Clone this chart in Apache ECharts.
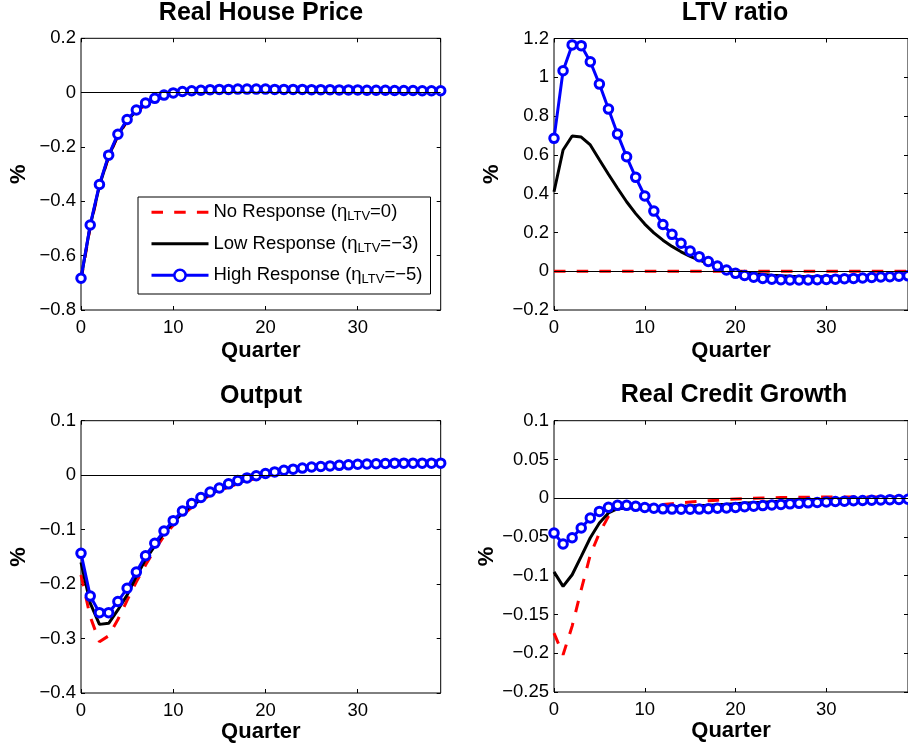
<!DOCTYPE html>
<html><head><meta charset="utf-8">
<script src="https://cdn.jsdelivr.net/npm/echarts@6/dist/echarts.min.js"></script>
<style>html,body{margin:0;padding:0;background:#fff}#c{width:908px;height:746px}</style>
</head><body><div id="c"></div>
<script>
// ---------- data ----------
const quarters = [0,1,2,3,4,5,6,7,8,9,10,11,12,13,14,15,16,17,18,19,20,21,22,23,24,25,26,27,28,29,30,31,32,33,34,35,36,37,38,39];

const panelTitles = ['Real House Price', 'LTV ratio', 'Output', 'Real Credit Growth'];
const seriesNames = ['No Response', 'Low Response', 'High Response'];
const legendEta = ['0', '\u22123', '\u22125'];

const yMins = [-0.8, -0.2, -0.4, -0.25];
const yMaxs = [0.2, 1.2, 0.1, 0.1];
const yIntervals = [0.2, 0.2, 0.1, 0.05];
const xTicks = [0, 10, 20, 30];

// Real House Price
const housePriceNo = [-0.69,-0.495,-0.345,-0.236,-0.159,-0.105,-0.07,-0.045,-0.028,-0.016,-0.008,-0.003,0.0,0.002,0.003,0.004,0.004,0.004,0.004,0.004,0.004,0.004,0.004,0.004,0.004,0.004,0.004,0.004,0.004,0.004,0.004,0.004,0.003,0.003,0.003,0.003,0.003,0.003,0.003,0.003];
const housePriceLow = [-0.685,-0.49,-0.342,-0.234,-0.157,-0.103,-0.067,-0.042,-0.025,-0.014,-0.006,-0.001,0.002,0.004,0.005,0.006,0.006,0.007,0.007,0.007,0.007,0.007,0.007,0.006,0.006,0.006,0.006,0.006,0.006,0.006,0.005,0.005,0.005,0.005,0.005,0.005,0.005,0.004,0.004,0.004];
const housePriceHigh = [-0.683,-0.487,-0.338,-0.23,-0.153,-0.099,-0.064,-0.038,-0.021,-0.009,-0.001,0.004,0.007,0.009,0.011,0.012,0.012,0.013,0.013,0.013,0.013,0.012,0.012,0.012,0.012,0.011,0.011,0.011,0.01,0.01,0.01,0.009,0.009,0.009,0.008,0.008,0.008,0.007,0.007,0.007];

// LTV ratio
const ltvNo = [0,0,0,0,0,0,0,0,0,0,0,0,0,0,0,0,0,0,0,0,0,0,0,0,0,0,0,0,0,0,0,0,0,0,0,0,0,0,0,0];
const ltvLow = [0.41,0.625,0.697,0.692,0.651,0.575,0.5,0.428,0.358,0.297,0.243,0.198,0.16,0.128,0.1,0.077,0.057,0.04,0.025,0.012,0.002,-0.006,-0.012,-0.017,-0.021,-0.024,-0.026,-0.027,-0.028,-0.028,-0.028,-0.027,-0.026,-0.025,-0.024,-0.023,-0.022,-0.021,-0.02,-0.019];
const ltvHigh = [0.685,1.034,1.167,1.163,1.08,0.965,0.836,0.707,0.59,0.484,0.388,0.31,0.241,0.19,0.144,0.104,0.075,0.05,0.027,0.006,-0.011,-0.022,-0.031,-0.037,-0.041,-0.044,-0.045,-0.045,-0.045,-0.044,-0.043,-0.041,-0.039,-0.037,-0.035,-0.032,-0.03,-0.028,-0.026,-0.024];

// Output
const outputNo = [-0.183,-0.26,-0.306,-0.295,-0.265,-0.23,-0.196,-0.165,-0.137,-0.112,-0.092,-0.074,-0.059,-0.047,-0.037,-0.029,-0.022,-0.016,-0.011,-0.006,-0.002,0.002,0.005,0.008,0.01,0.012,0.014,0.015,0.016,0.017,0.018,0.019,0.019,0.02,0.02,0.02,0.021,0.021,0.021,0.021];
const outputLow = [-0.16,-0.235,-0.274,-0.272,-0.2475,-0.22,-0.186,-0.155,-0.13,-0.106,-0.087,-0.07,-0.056,-0.045,-0.035,-0.027,-0.02,-0.014,-0.009,-0.004,0.0,0.003,0.006,0.009,0.011,0.013,0.014,0.015,0.016,0.017,0.018,0.019,0.019,0.02,0.02,0.02,0.021,0.021,0.021,0.021];
const outputHigh = [-0.1435,-0.222,-0.2525,-0.2525,-0.232,-0.2077,-0.178,-0.148,-0.125,-0.1025,-0.0835,-0.066,-0.052,-0.041,-0.031,-0.0235,-0.016,-0.01,-0.005,-0.001,0.003,0.006,0.009,0.011,0.013,0.015,0.016,0.017,0.018,0.019,0.02,0.0205,0.021,0.0215,0.022,0.022,0.022,0.022,0.022,0.022];

// Real Credit Growth
const creditNo = [-0.174,-0.202,-0.165,-0.118,-0.073,-0.045,-0.0234,-0.013,-0.011,-0.0105,-0.0098,-0.009,-0.008,-0.007,-0.006,-0.005,-0.004,-0.0032,-0.0025,-0.0018,-0.001,-0.0005,0.0,0.0003,0.0006,0.0008,0.001,0.0012,0.0013,0.0014,0.0015,0.0015,0.0015,0.0015,0.0015,0.0015,0.0015,0.0015,0.0015,0.0015];
const creditLow = [-0.095,-0.1137,-0.0987,-0.075,-0.051,-0.032,-0.019,-0.0135,-0.0125,-0.0123,-0.012,-0.0117,-0.0113,-0.011,-0.0105,-0.01,-0.0095,-0.009,-0.0083,-0.0077,-0.007,-0.0063,-0.0057,-0.0051,-0.0045,-0.004,-0.0035,-0.003,-0.0025,-0.002,-0.0016,-0.0013,-0.001,-0.0008,-0.0006,-0.0004,-0.0003,-0.0002,-0.0001,0.0];
const creditHigh = [-0.045,-0.059,-0.051,-0.0385,-0.0255,-0.017,-0.0118,-0.0092,-0.0092,-0.0105,-0.012,-0.013,-0.0137,-0.014,-0.0143,-0.0143,-0.014,-0.0135,-0.013,-0.0125,-0.012,-0.011,-0.0103,-0.0095,-0.0088,-0.008,-0.0073,-0.0066,-0.006,-0.0054,-0.0048,-0.0043,-0.0038,-0.0033,-0.0029,-0.0025,-0.0022,-0.0019,-0.0016,-0.0014];

const panelData = [
  [housePriceNo, housePriceLow, housePriceHigh],
  [ltvNo, ltvLow, ltvHigh],
  [outputNo, outputLow, outputHigh],
  [creditNo, creditLow, creditHigh]
];

// ---------- layout / style ----------
const FONT = "'Liberation Sans', Arial, Helvetica, sans-serif";
const grids = [
  {left: 81, top: 38.3, width: 359.7, height: 271.7},
  {left: 554, top: 38.5, width: 359.6, height: 271.5},
  {left: 81, top: 420.7, width: 359.7, height: 272.3},
  {left: 554, top: 420.7, width: 359.6, height: 271.3}
];
const titlePos = [
  {x: 261, y: 13.5}, {x: 735, y: 13.5}, {x: 261, y: 396}, {x: 734, y: 395.5}
];
const xNameGaps = [30, 30, 28, 28];
const colors = ['#ff0000', '#000000', '#0000ff'];

function fmtY(v) {
  const s = String(+(+v).toFixed(4));
  return s.replace('-', '\u2212');
}
function fmtX(v) {
  return xTicks.indexOf(Math.round(v)) >= 0 && Math.abs(v - Math.round(v)) < 1e-6 ? String(Math.round(v)) : '';
}

const tickStyle = {show: true, inside: true, length: 4, lineStyle: {color: '#000', width: 1}};
const xAxes = [], yAxes = [], series = [], titles = [];
for (let i = 0; i < 4; i++) {
  titles.push({
    text: panelTitles[i], left: titlePos[i].x, top: titlePos[i].y,
    textAlign: 'center', textVerticalAlign: 'middle', padding: 0,
    textStyle: {fontSize: 25, fontWeight: 'bold', color: '#000', fontFamily: FONT}
  });
  xAxes.push({
    type: 'value', gridIndex: i, position: 'bottom', min: 0, max: 39, interval: 10,
    axisLine: {show: false, onZero: false},
    axisTick: tickStyle,
    axisLabel: {formatter: fmtX, color: '#000', fontSize: 18.5, margin: 8, fontFamily: FONT, showMaxLabel: false},
    splitLine: {show: false},
    name: 'Quarter', nameLocation: 'middle', nameGap: xNameGaps[i],
    nameTextStyle: {fontWeight: 'bold', fontSize: 22, color: '#000', fontFamily: FONT}
  });
  yAxes.push({
    type: 'value', gridIndex: i, position: 'left', min: yMins[i], max: yMaxs[i], interval: yIntervals[i],
    axisLine: {show: false, onZero: false},
    axisTick: tickStyle,
    axisLabel: {formatter: fmtY, color: '#000', fontSize: 18.5, margin: 5, fontFamily: FONT},
    splitLine: {show: false},
    name: '%', nameLocation: 'middle', nameRotate: 90, nameGap: 51,
    nameTextStyle: {fontWeight: 'bold', fontSize: 22, color: '#000', fontFamily: FONT}
  });
}
for (let i = 0; i < 4; i++) {
  xAxes.push({
    type: 'value', gridIndex: i, position: 'top', min: 0, max: 39, interval: 10,
    axisLine: {show: false, onZero: false},
    axisTick: tickStyle,
    axisLabel: {show: false}, splitLine: {show: false}
  });
  yAxes.push({
    type: 'value', gridIndex: i, position: 'right', min: yMins[i], max: yMaxs[i], interval: yIntervals[i],
    axisLine: {show: false, onZero: false},
    axisTick: tickStyle,
    axisLabel: {show: false}, splitLine: {show: false}
  });
}

for (let i = 0; i < 4; i++) {
  for (let k = 0; k < 3; k++) {
    const vals = panelData[i][k];
    const s = {
      type: 'line', name: seriesNames[k], xAxisIndex: i, yAxisIndex: i,
      data: quarters.map((q, j) => [q, vals[j]]),
      lineStyle: {color: colors[k], width: 3, type: k === 0 ? [11.5, 11.2] : 'solid'},
      symbol: k === 2 ? 'circle' : 'none',
      symbolSize: 8.5,
      showSymbol: k === 2, showAllSymbol: true,
      itemStyle: k === 2
        ? {color: '#ffffff', borderColor: colors[k], borderWidth: 3}
        : {color: colors[k]},
      emphasis: {disabled: true},
      animation: false, silent: true, z: 2 + k
    };
    if (k === 0) {
      s.markLine = {
        silent: true, symbol: ['none', 'none'], animation: false,
        label: {show: false},
        lineStyle: {color: '#000', width: 1, type: 'solid'},
        emphasis: {disabled: true},
        data: [{yAxis: 0}]
      };
    }
    series.push(s);
  }
}

const chart = echarts.init(document.getElementById('c'), null, {renderer: 'canvas'});
chart.setOption({
  backgroundColor: '#fff',
  animation: false,
  title: titles,
  grid: grids.map(g => Object.assign({show: true, borderColor: '#000', borderWidth: 1, backgroundColor: 'transparent', containLabel: false}, g)),
  xAxis: xAxes,
  yAxis: yAxes,
  legend: {
    left: 138, top: 197, orient: 'vertical',
    padding: [4.3, 8, 7.7, 12],
    backgroundColor: '#fff', borderColor: '#000', borderWidth: 1, borderRadius: 0,
    itemWidth: 57, itemHeight: 14, itemGap: 9.5,
    selectedMode: false,
    data: [
      {name: seriesNames[0], itemStyle: {opacity: 0}, lineStyle: {color: colors[0], width: 3, type: [11.5, 11.2]}},
      {name: seriesNames[1], itemStyle: {opacity: 0}, lineStyle: {color: colors[1], width: 3, type: 'solid'}},
      {name: seriesNames[2], itemStyle: {color: '#ffffff', borderColor: colors[2], borderWidth: 2.5}, lineStyle: {color: colors[2], width: 3, type: 'solid'}}
    ],
    formatter: function (name) {
      const k = seriesNames.indexOf(name);
      return '{t|' + name + ' (\u03b7}{s|LTV}{t|=' + legendEta[k] + ')}';
    },
    textStyle: {
      color: '#000', fontSize: 18.5, fontFamily: FONT, lineHeight: 22,
      rich: {
        t: {fontSize: 18.5, fontFamily: FONT, color: '#000', lineHeight: 22},
        s: {fontSize: 13, fontFamily: FONT, color: '#000', lineHeight: 15, padding: [9, 0, 0, 0]}
      }
    }
  },
  series: series
});
</script>
</body></html>
